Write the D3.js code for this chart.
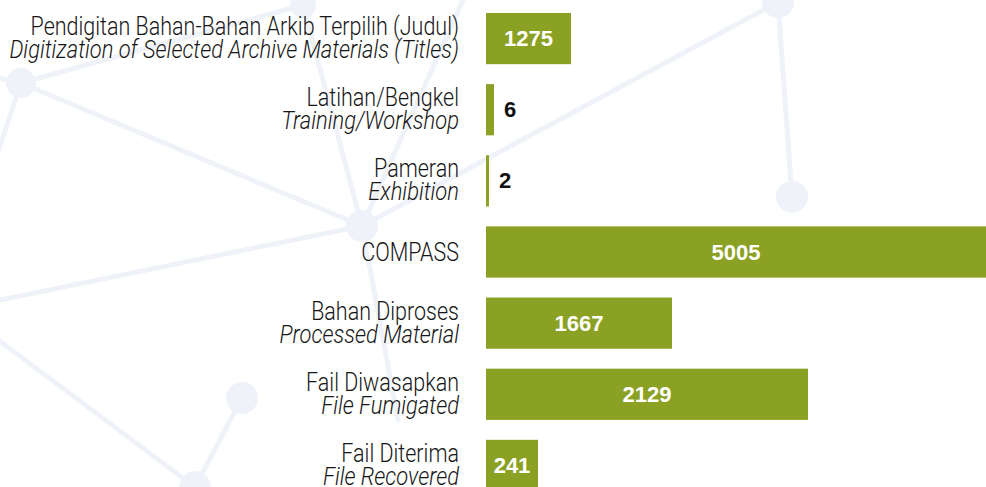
<!DOCTYPE html>
<html>
<head>
<meta charset="utf-8">
<script src="https://cdn.jsdelivr.net/npm/d3@7"></script>
<style>
  html, body { margin: 0; padding: 0; background: #ffffff; }
  svg { display: block; }
</style>
</head>
<body>
<svg id="chart" width="986" height="487"></svg>
<script>
// ---- data ----
const categories = ["digitization", "training", "exhibition", "compass", "processed", "fumigated", "recovered"];
const labelsMalay = ["Pendigitan Bahan-Bahan Arkib Terpilih (Judul)", "Latihan/Bengkel", "Pameran", "COMPASS", "Bahan Diproses", "Fail Diwasapkan", "Fail Diterima"];
const labelsEnglish = ["Digitization of Selected Archive Materials (Titles)", "Training/Workshop", "Exhibition", "", "Processed Material", "File Fumigated", "File Recovered"];
const values = [1275, 6, 2, 5005, 1667, 2129, 241];

// ---- decorative background network ----
const nodes = [[21, 83, 15], [303, 5, 13], [362, 226, 16], [778, 2, 16], [792, 197, 16], [242, 398, 16], [195, 487, 16]];
const edges = [
  [[21, 83], [303, 5]], [[21, 83], [-10, 76]], [[21, 83], [362, 226]], [[21, 83], [-8, 170]],
  [[303, 5], [362, 226]], [[303, 5], [275, -20]],
  [[362, 226], [778, 2]], [[362, 226], [472, -20]], [[362, 226], [-10, 302]], [[362, 226], [398, 420]],
  [[778, 2], [792, 197]], [[778, 2], [735, -12]],
  [[242, 398], [195, 487]], [[-10, 334], [195, 487]]
];

const svg = d3.select("#chart");
const bg = svg.append("g");
bg.selectAll("line").data(edges).join("line")
  .attr("x1", d => d[0][0]).attr("y1", d => d[0][1])
  .attr("x2", d => d[1][0]).attr("y2", d => d[1][1])
  .attr("stroke", "#eff3f9").attr("stroke-width", 5).attr("stroke-linecap", "round");
bg.selectAll("circle").data(nodes).join("circle")
  .attr("cx", d => d[0]).attr("cy", d => d[1]).attr("r", d => d[2])
  .attr("fill", "#eff3f9");

// ---- scales ----
const x0 = 486;
const sorted = [0].concat(values.slice().sort((a, b) => a - b));
// the source infographic does not draw bars proportionally; a piecewise scale reproduces its lengths
const x = d3.scaleLinear()
  .domain(sorted)
  .range([0, 3, 8, 52, 85, 186, 322, 500].map(v => x0 + v));

const y = d3.scaleBand().domain(categories).range([3, 501]).paddingInner(0.28).paddingOuter(0.14);

const barColor = "#8ba123";
const labelFont = "Roboto, 'Liberation Sans', Arial, sans-serif";
const valueFont = "'Liberation Sans', Arial, Helvetica, sans-serif";

const rows = svg.append("g").selectAll("g").data(categories).join("g");

rows.append("rect")
  .attr("x", x0)
  .attr("y", d => y(d))
  .attr("width", (d, i) => x(values[i]) - x0)
  .attr("height", y.bandwidth())
  .attr("fill", barColor);

// category labels (condensed look via horizontal squeeze)
const labelX = 459;
function label(g, text, baseY, italic) {
  const squeeze = italic ? 0.878 : 0.86;
  g.append("text")
    .attr("transform", `translate(${labelX},${baseY}) scale(${squeeze},1)`)
    .attr("text-anchor", "end").attr("font-family", labelFont).attr("font-size", 25)
    .attr("font-weight", 300)
    .attr("font-style", italic ? "italic" : "normal")
    .attr("fill", "#161616").text(text);
}
rows.each(function (d, i) {
  const g = d3.select(this);
  const cy = y(d) + y.bandwidth() / 2;
  if (labelsEnglish[i]) {
    label(g, labelsMalay[i], cy - 3.5, false);
    label(g, labelsEnglish[i], cy + 19.5, true);
  } else {
    label(g, labelsMalay[i], cy + 9, false);
  }
});

// value labels
rows.append("text")
  .attr("font-family", valueFont).attr("font-weight", "bold").attr("font-size", 22)
  .attr("y", d => y(d) + y.bandwidth() / 2 + 7.5)
  .each(function (d, i) {
    const w = x(values[i]) - x0;
    const t = d3.select(this).text(values[i]);
    if (w > 45) {
      t.attr("x", x0 + w / 2).attr("text-anchor", "middle").attr("fill", "#ffffff");
    } else {
      t.attr("x", x(values[i]) + 10).attr("text-anchor", "start").attr("fill", "#111111");
    }
  });
</script>
</body>
</html>
